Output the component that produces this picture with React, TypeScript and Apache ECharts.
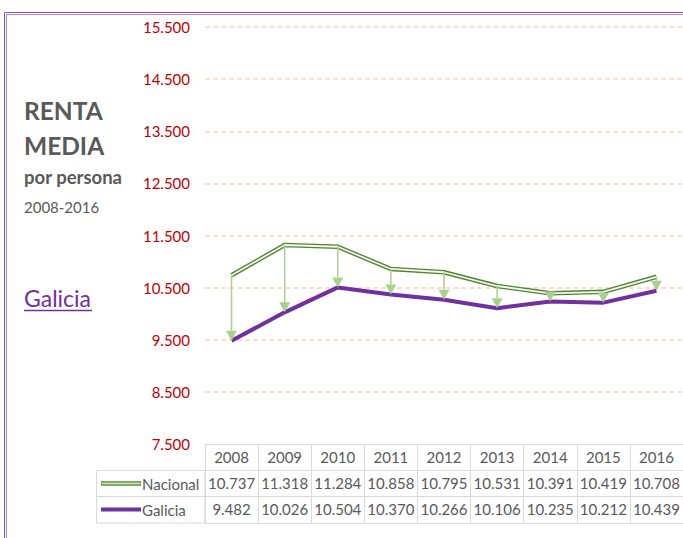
import React, { useEffect, useRef } from 'react';
import * as echarts from 'echarts';

const years = ['2008', '2009', '2010', '2011', '2012', '2013', '2014', '2015', '2016'];
const nacional = [10737, 11318, 11284, 10858, 10795, 10531, 10391, 10419, 10708];
const galicia = [9482, 10026, 10504, 10370, 10266, 10106, 10235, 10212, 10439];
const yMin = 7500;
const yMax = 15500;
const yStep = 1000;
const seriesNames = ['Nacional', 'Galicia'];
const titleLines = ['RENTA', 'MEDIA'];
const subtitle = 'por persona';
const period = '2008-2016';
const region = 'Galicia';

const FONT = 'Lato, "Noto Sans", sans-serif';
const GRAY = '#595959';
const BORDER = '#d9d9d9';
const GREEN_DARK = '#548235';
const GREEN_LIGHT = '#a9d18e';
const PURPLE = '#7030a0';

const fmt = (v: number) => {
  const s = Math.round(v).toString();
  return s.length > 3 ? s.slice(0, -3) + '.' + s.slice(-3) : s;
};

export default function App() {
  const ref = useRef<HTMLDivElement>(null);

  useEffect(() => {
    if (!ref.current) return;
    const chart = echarts.init(ref.current, undefined, { renderer: 'svg' });

    const labelBase = {
      interval: 0,
      margin: 13,
      verticalAlign: 'middle' as const,
      color: GRAY,
      fontSize: 15,
      fontFamily: FONT,
    };
    const baseX = {
      type: 'category' as const,
      data: years,
      boundaryGap: true,
      position: 'bottom' as const,
      axisLine: { show: true, lineStyle: { color: BORDER, width: 1 } },
      axisTick: { show: false },
      splitLine: { show: false },
    };

    const option: any = {
      animation: false,
      backgroundColor: '#ffffff',
      grid: { left: 205, right: -4, top: 27, bottom: 94, containLabel: false },
      xAxis: [
        {
          ...baseX,
          offset: 0,
          axisTick: { show: true, interval: 0, length: 79, lineStyle: { color: BORDER, width: 1 } },
          axisLabel: { ...labelBase },
        },
        {
          ...baseX,
          offset: 26,
          axisLabel: { ...labelBase, formatter: (_v: string, i: number) => fmt(nacional[i]) },
        },
        {
          ...baseX,
          offset: 52,
          axisLabel: { ...labelBase, formatter: (_v: string, i: number) => fmt(galicia[i]) },
        },
        {
          ...baseX,
          offset: 79,
          axisLabel: { show: false },
        },
      ],
      yAxis: {
        type: 'value',
        min: yMin,
        max: yMax,
        interval: yStep,
        axisLine: { show: false },
        axisTick: { show: false },
        axisLabel: {
          color: '#c00000',
          fontSize: 15,
          fontFamily: FONT,
          margin: 15,
          formatter: (v: number) => fmt(v),
        },
        splitLine: {
          show: true,
          showMinLine: false,
          lineStyle: { color: '#f9d5bf', type: [5, 3], width: 1.5 },
        },
      },
      series: [
        {
          name: seriesNames[0],
          type: 'line',
          data: nacional,
          symbol: 'none',
          lineStyle: { color: GREEN_DARK, width: 4.5 },
          z: 3,
          silent: true,
        },
        {
          name: seriesNames[0] + ' inner',
          type: 'line',
          data: nacional,
          symbol: 'none',
          lineStyle: { color: '#f1f8ec', width: 1.8 },
          z: 4,
          silent: true,
        },
        {
          name: seriesNames[1],
          type: 'line',
          data: galicia,
          symbol: 'none',
          lineStyle: { color: PURPLE, width: 4 },
          z: 3,
          silent: true,
        },
        {
          type: 'custom',
          z: 5,
          silent: true,
          data: years.map((_, i) => [i, nacional[i], galicia[i]]),
          encode: { x: 0, y: [1, 2] },
          renderItem: (_params: any, api: any) => {
            const i = api.value(0);
            const top = api.coord([i, api.value(1)]);
            const tip = api.coord([i, api.value(2)]);
            const h = 10;
            const w = 5.5;
            return {
              type: 'group',
              children: [
                {
                  type: 'line',
                  shape: { x1: top[0], y1: top[1], x2: tip[0], y2: tip[1] - h },
                  style: { stroke: GREEN_LIGHT, lineWidth: 1.5 },
                },
                {
                  type: 'polygon',
                  shape: {
                    points: [
                      [tip[0] - w, tip[1] - h],
                      [tip[0] + w, tip[1] - h],
                      [tip[0], tip[1]],
                    ],
                  },
                  style: { fill: GREEN_LIGHT },
                },
              ],
            };
          },
        },
      ],
      graphic: [
        { type: 'rect', shape: { x: 4.5, y: 12.5, width: 900, height: 900 }, style: { fill: 'none', stroke: '#8a50c4', lineWidth: 1 } },
        { type: 'rect', shape: { x: 6.5, y: 14.5, width: 900, height: 900 }, style: { fill: 'none', stroke: '#b48ad8', lineWidth: 1 } },
        { type: 'text', x: 24, y: 110, style: { text: titleLines[0], fill: GRAY, fontSize: 24.5, fontWeight: 'bold', fontFamily: FONT, verticalAlign: 'middle' } },
        { type: 'text', x: 24, y: 145, style: { text: titleLines[1], fill: GRAY, fontSize: 24.5, fontWeight: 'bold', fontFamily: FONT, verticalAlign: 'middle' } },
        { type: 'text', x: 24, y: 177, style: { text: subtitle, fill: GRAY, fontSize: 18.5, fontWeight: 'bold', fontFamily: FONT, verticalAlign: 'middle' } },
        { type: 'text', x: 24, y: 207, style: { text: period, fill: GRAY, fontSize: 15, fontFamily: FONT, verticalAlign: 'middle' } },
        { type: 'text', x: 24, y: 298, style: { text: region, fill: PURPLE, fontSize: 23, fontFamily: FONT, verticalAlign: 'middle' } },
        { type: 'line', shape: { x1: 24, y1: 310.5, x2: 92, y2: 310.5 }, style: { stroke: PURPLE, lineWidth: 1.5 } },
        { type: 'rect', shape: { x: 96.5, y: 470.5, width: 108.5, height: 52.5 }, style: { fill: 'none', stroke: BORDER, lineWidth: 1 } },
        { type: 'line', shape: { x1: 96.5, y1: 496.5, x2: 205, y2: 496.5 }, style: { stroke: BORDER, lineWidth: 1 } },
        { type: 'line', shape: { x1: 101, y1: 483.5, x2: 141, y2: 483.5 }, style: { stroke: GREEN_DARK, lineWidth: 4.5 } },
        { type: 'line', shape: { x1: 101.5, y1: 483.5, x2: 140.5, y2: 483.5 }, style: { stroke: '#c5e0b4', lineWidth: 1.8 } },
        { type: 'text', x: 142, y: 483.5, style: { text: seriesNames[0], fill: GRAY, fontSize: 15, fontFamily: FONT, verticalAlign: 'middle' } },
        { type: 'line', shape: { x1: 101, y1: 509.5, x2: 141, y2: 509.5 }, style: { stroke: PURPLE, lineWidth: 4 } },
        { type: 'text', x: 142, y: 509.5, style: { text: seriesNames[1], fill: GRAY, fontSize: 15, fontFamily: FONT, verticalAlign: 'middle' } },
      ],
    };

    chart.setOption(option);
    return () => chart.dispose();
  }, []);

  return (
    <div
      ref={ref}
      style={{ position: 'absolute', left: 0, top: 0, width: 683, height: 538, background: '#ffffff' }}
    />
  );
}
